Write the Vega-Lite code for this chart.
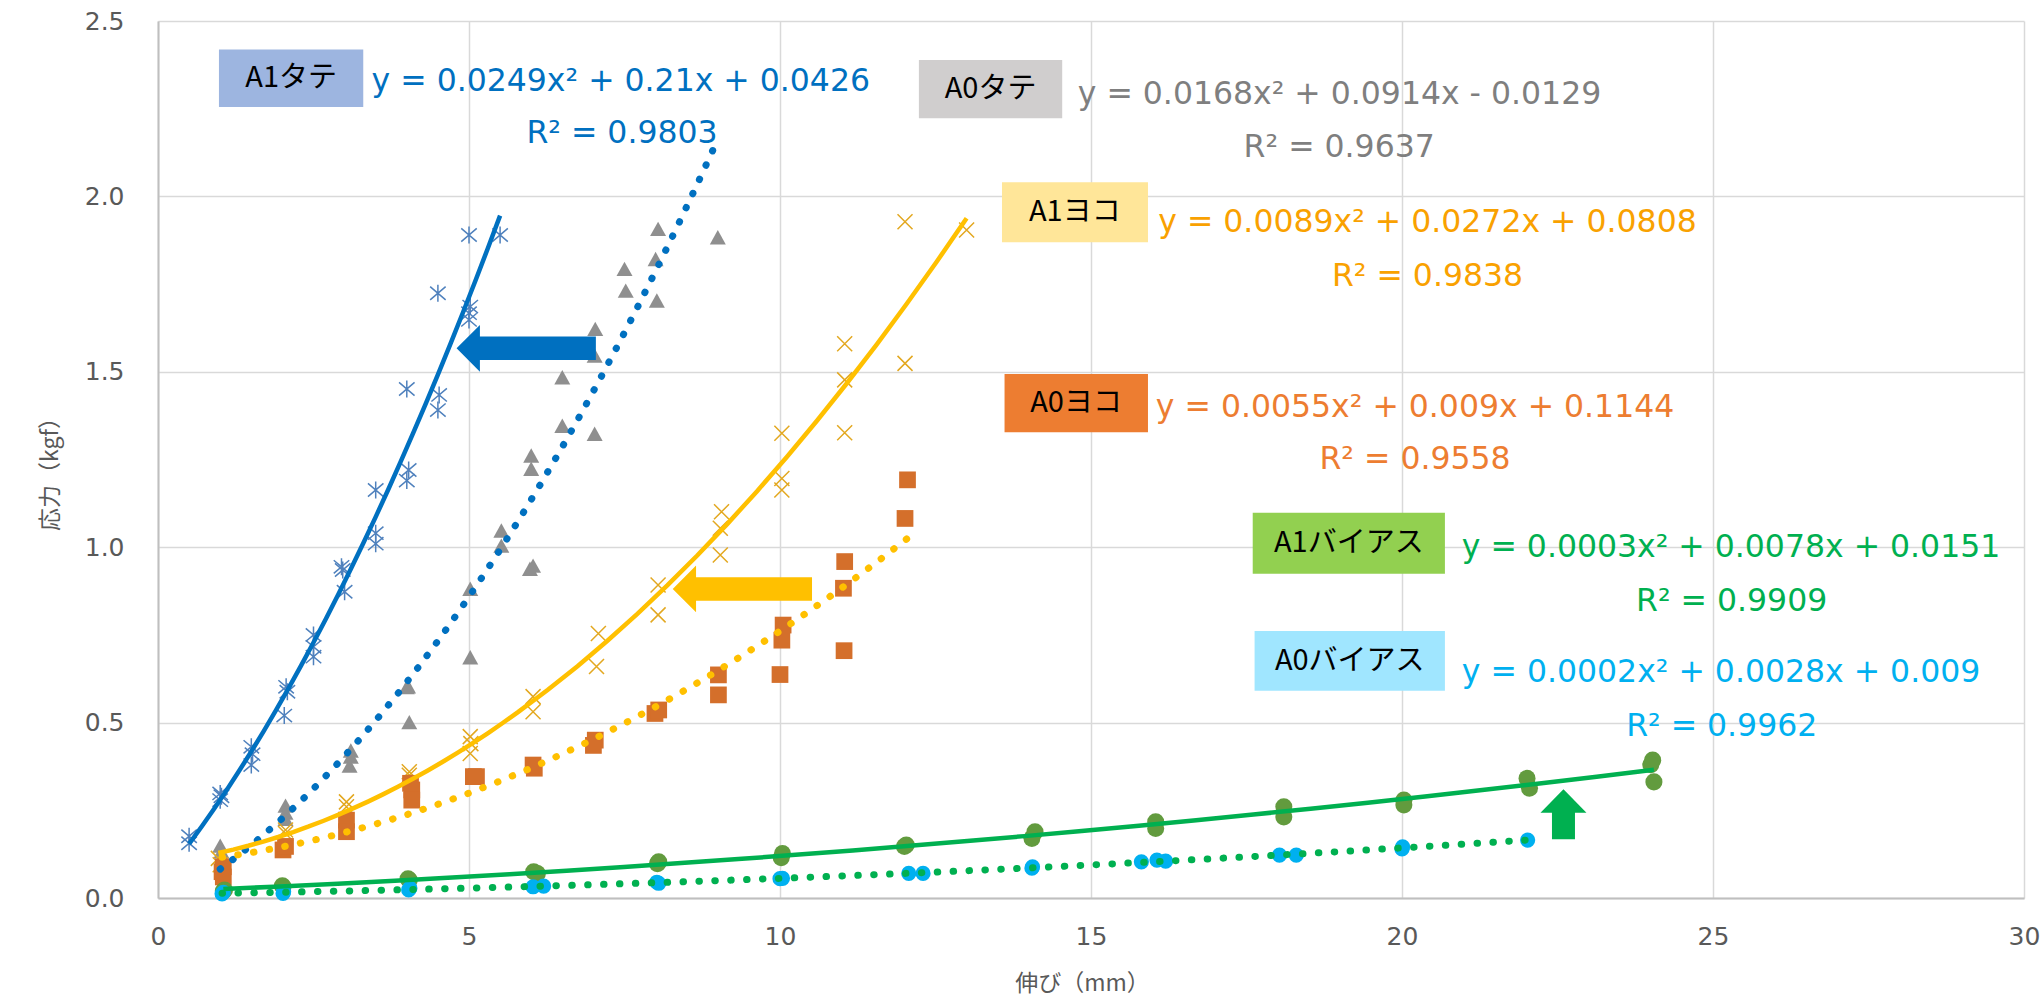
{
  "$schema": "https://vega.github.io/schema/vega-lite/v6.json",
  "width": 1866,
  "height": 877,
  "autosize": "none",
  "padding": {"left": 158, "top": 21, "right": 18, "bottom": 100},
  "background": "white",
  "config": {"view": {"stroke": null}},
  "datasets": {
    "pts": [
      {"s": "A1タテ", "x": 0.5, "y": 0.156}, {"s": "A1タテ", "x": 0.5, "y": 0.176},
      {"s": "A1タテ", "x": 1.0, "y": 0.279}, {"s": "A1タテ", "x": 1.0, "y": 0.298}, {"s": "A1タテ", "x": 1.02, "y": 0.29},
      {"s": "A1タテ", "x": 1.5, "y": 0.379}, {"s": "A1タテ", "x": 1.5, "y": 0.431}, {"s": "A1タテ", "x": 1.52, "y": 0.41},
      {"s": "A1タテ", "x": 2.03, "y": 0.52}, {"s": "A1タテ", "x": 2.06, "y": 0.602}, {"s": "A1タテ", "x": 2.08, "y": 0.588},
      {"s": "A1タテ", "x": 2.5, "y": 0.688}, {"s": "A1タテ", "x": 2.5, "y": 0.716}, {"s": "A1タテ", "x": 2.5, "y": 0.75},
      {"s": "A1タテ", "x": 3.0, "y": 0.873}, {"s": "A1タテ", "x": 2.97, "y": 0.935}, {"s": "A1タテ", "x": 2.95, "y": 0.944},
      {"s": "A1タテ", "x": 3.5, "y": 1.01}, {"s": "A1タテ", "x": 3.5, "y": 1.04}, {"s": "A1タテ", "x": 3.5, "y": 1.163},
      {"s": "A1タテ", "x": 4.0, "y": 1.19}, {"s": "A1タテ", "x": 4.03, "y": 1.22}, {"s": "A1タテ", "x": 4.0, "y": 1.451},
      {"s": "A1タテ", "x": 4.5, "y": 1.391}, {"s": "A1タテ", "x": 4.52, "y": 1.434}, {"s": "A1タテ", "x": 4.5, "y": 1.724},
      {"s": "A1タテ", "x": 5.0, "y": 1.648}, {"s": "A1タテ", "x": 5.0, "y": 1.667}, {"s": "A1タテ", "x": 5.02, "y": 1.686}, {"s": "A1タテ", "x": 5.0, "y": 1.89},
      {"s": "A1タテ", "x": 5.5, "y": 1.89},

      {"s": "A0タテ", "x": 1.0, "y": 0.146}, {"s": "A0タテ", "x": 1.02, "y": 0.13},
      {"s": "A0タテ", "x": 2.05, "y": 0.26}, {"s": "A0タテ", "x": 2.05, "y": 0.24}, {"s": "A0タテ", "x": 2.05, "y": 0.222},
      {"s": "A0タテ", "x": 3.1, "y": 0.417}, {"s": "A0タテ", "x": 3.1, "y": 0.4}, {"s": "A0タテ", "x": 3.08, "y": 0.374},
      {"s": "A0タテ", "x": 4.0, "y": 0.598}, {"s": "A0タテ", "x": 4.02, "y": 0.6}, {"s": "A0タテ", "x": 4.04, "y": 0.498},
      {"s": "A0タテ", "x": 5.02, "y": 0.878}, {"s": "A0タテ", "x": 5.02, "y": 0.683},
      {"s": "A0タテ", "x": 5.52, "y": 1.044}, {"s": "A0タテ", "x": 5.52, "y": 1.001},
      {"s": "A0タテ", "x": 5.98, "y": 0.935}, {"s": "A0タテ", "x": 6.03, "y": 0.944}, {"s": "A0タテ", "x": 6.0, "y": 1.258}, {"s": "A0タテ", "x": 6.0, "y": 1.22},
      {"s": "A0タテ", "x": 6.5, "y": 1.481}, {"s": "A0タテ", "x": 6.5, "y": 1.343},
      {"s": "A0タテ", "x": 7.03, "y": 1.619}, {"s": "A0タテ", "x": 7.02, "y": 1.543}, {"s": "A0タテ", "x": 7.02, "y": 1.32},
      {"s": "A0タテ", "x": 7.5, "y": 1.79}, {"s": "A0タテ", "x": 7.52, "y": 1.728},
      {"s": "A0タテ", "x": 8.04, "y": 1.904}, {"s": "A0タテ", "x": 8.0, "y": 1.818}, {"s": "A0タテ", "x": 8.02, "y": 1.7},
      {"s": "A0タテ", "x": 9.0, "y": 1.88},

      {"s": "A1ヨコ", "x": 0.97, "y": 0.113}, {"s": "A1ヨコ", "x": 1.0, "y": 0.095},
      {"s": "A1ヨコ", "x": 2.05, "y": 0.184}, {"s": "A1ヨコ", "x": 2.05, "y": 0.194},
      {"s": "A1ヨコ", "x": 3.03, "y": 0.274}, {"s": "A1ヨコ", "x": 3.03, "y": 0.26},
      {"s": "A1ヨコ", "x": 4.04, "y": 0.36}, {"s": "A1ヨコ", "x": 4.04, "y": 0.35},
      {"s": "A1ヨコ", "x": 5.02, "y": 0.46}, {"s": "A1ヨコ", "x": 5.02, "y": 0.412}, {"s": "A1ヨコ", "x": 5.03, "y": 0.44},
      {"s": "A1ヨコ", "x": 6.03, "y": 0.574}, {"s": "A1ヨコ", "x": 6.03, "y": 0.531},
      {"s": "A1ヨコ", "x": 7.08, "y": 0.754}, {"s": "A1ヨコ", "x": 7.05, "y": 0.66},
      {"s": "A1ヨコ", "x": 8.04, "y": 0.892}, {"s": "A1ヨコ", "x": 8.04, "y": 0.807},
      {"s": "A1ヨコ", "x": 9.06, "y": 1.101}, {"s": "A1ヨコ", "x": 9.04, "y": 1.054}, {"s": "A1ヨコ", "x": 9.04, "y": 0.978},
      {"s": "A1ヨコ", "x": 10.03, "y": 1.325}, {"s": "A1ヨコ", "x": 10.03, "y": 1.196}, {"s": "A1ヨコ", "x": 10.03, "y": 1.163},
      {"s": "A1ヨコ", "x": 11.04, "y": 1.58}, {"s": "A1ヨコ", "x": 11.04, "y": 1.477}, {"s": "A1ヨコ", "x": 11.04, "y": 1.326},
      {"s": "A1ヨコ", "x": 12.01, "y": 1.928}, {"s": "A1ヨコ", "x": 12.01, "y": 1.524},
      {"s": "A1ヨコ", "x": 13.0, "y": 1.904},

      {"s": "A0ヨコ", "x": 1.05, "y": 0.089}, {"s": "A0ヨコ", "x": 1.05, "y": 0.06}, {"s": "A0ヨコ", "x": 1.03, "y": 0.075},
      {"s": "A0ヨコ", "x": 2.01, "y": 0.137}, {"s": "A0ヨコ", "x": 2.05, "y": 0.147},
      {"s": "A0ヨコ", "x": 3.03, "y": 0.222}, {"s": "A0ヨコ", "x": 3.03, "y": 0.189},
      {"s": "A0ヨコ", "x": 4.08, "y": 0.308}, {"s": "A0ヨコ", "x": 4.08, "y": 0.279}, {"s": "A0ヨコ", "x": 4.06, "y": 0.327},
      {"s": "A0ヨコ", "x": 5.07, "y": 0.346}, {"s": "A0ヨコ", "x": 5.12, "y": 0.346},
      {"s": "A0ヨコ", "x": 6.03, "y": 0.379}, {"s": "A0ヨコ", "x": 6.05, "y": 0.37},
      {"s": "A0ヨコ", "x": 7.03, "y": 0.45}, {"s": "A0ヨコ", "x": 7.0, "y": 0.435},
      {"s": "A0ヨコ", "x": 7.99, "y": 0.526}, {"s": "A0ヨコ", "x": 8.05, "y": 0.536},
      {"s": "A0ヨコ", "x": 9.01, "y": 0.636}, {"s": "A0ヨコ", "x": 9.01, "y": 0.579},
      {"s": "A0ヨコ", "x": 10.03, "y": 0.735}, {"s": "A0ヨコ", "x": 10.05, "y": 0.778}, {"s": "A0ヨコ", "x": 10.0, "y": 0.637},
      {"s": "A0ヨコ", "x": 11.04, "y": 0.959}, {"s": "A0ヨコ", "x": 11.02, "y": 0.883}, {"s": "A0ヨコ", "x": 11.03, "y": 0.705},
      {"s": "A0ヨコ", "x": 12.05, "y": 1.192}, {"s": "A0ヨコ", "x": 12.01, "y": 1.082},

      {"s": "A1バイアス", "x": 1.07, "y": 0.023}, {"s": "A1バイアス", "x": 1.05, "y": 0.02},
      {"s": "A1バイアス", "x": 2.01, "y": 0.032}, {"s": "A1バイアス", "x": 2.0, "y": 0.035},
      {"s": "A1バイアス", "x": 4.04, "y": 0.051}, {"s": "A1バイアス", "x": 4.02, "y": 0.055},
      {"s": "A1バイアス", "x": 6.04, "y": 0.075}, {"s": "A1バイアス", "x": 6.1, "y": 0.07},
      {"s": "A1バイアス", "x": 8.05, "y": 0.103}, {"s": "A1バイアス", "x": 8.03, "y": 0.098},
      {"s": "A1バイアス", "x": 10.04, "y": 0.127}, {"s": "A1バイアス", "x": 10.02, "y": 0.115},
      {"s": "A1バイアス", "x": 12.03, "y": 0.151}, {"s": "A1バイアス", "x": 12.0, "y": 0.147},
      {"s": "A1バイアス", "x": 14.1, "y": 0.189}, {"s": "A1バイアス", "x": 14.05, "y": 0.17},
      {"s": "A1バイアス", "x": 16.04, "y": 0.217}, {"s": "A1バイアス", "x": 16.04, "y": 0.198},
      {"s": "A1バイアス", "x": 18.1, "y": 0.26}, {"s": "A1バイアス", "x": 18.1, "y": 0.231},
      {"s": "A1バイアス", "x": 20.03, "y": 0.279}, {"s": "A1バイアス", "x": 20.03, "y": 0.265},
      {"s": "A1バイアス", "x": 22.01, "y": 0.341}, {"s": "A1バイアス", "x": 22.05, "y": 0.313},
      {"s": "A1バイアス", "x": 24.03, "y": 0.393}, {"s": "A1バイアス", "x": 24.05, "y": 0.331}, {"s": "A1バイアス", "x": 24.0, "y": 0.38},

      {"s": "A0バイアス", "x": 1.03, "y": 0.012}, {"s": "A0バイアス", "x": 1.05, "y": 0.016},
      {"s": "A0バイアス", "x": 2.01, "y": 0.013}, {"s": "A0バイアス", "x": 2.02, "y": 0.018},
      {"s": "A0バイアス", "x": 4.03, "y": 0.023}, {"s": "A0バイアス", "x": 4.05, "y": 0.028},
      {"s": "A0バイアス", "x": 6.03, "y": 0.032}, {"s": "A0バイアス", "x": 6.2, "y": 0.034},
      {"s": "A0バイアス", "x": 8.05, "y": 0.042}, {"s": "A0バイアス", "x": 8.02, "y": 0.045},
      {"s": "A0バイアス", "x": 10.04, "y": 0.056}, {"s": "A0バイアス", "x": 10.0, "y": 0.055},
      {"s": "A0バイアス", "x": 12.07, "y": 0.07}, {"s": "A0バイアス", "x": 12.3, "y": 0.07},
      {"s": "A0バイアス", "x": 14.06, "y": 0.089}, {"s": "A0バイアス", "x": 14.05, "y": 0.085},
      {"s": "A0バイアス", "x": 15.81, "y": 0.103}, {"s": "A0バイアス", "x": 16.06, "y": 0.108}, {"s": "A0バイアス", "x": 16.2, "y": 0.105},
      {"s": "A0バイアス", "x": 18.03, "y": 0.122}, {"s": "A0バイアス", "x": 18.3, "y": 0.122},
      {"s": "A0バイアス", "x": 20.01, "y": 0.146}, {"s": "A0バイアス", "x": 20.0, "y": 0.14},
      {"s": "A0バイアス", "x": 22.02, "y": 0.165}
    ],
    "boxes": [
      {"lab": "A1タテ", "x": 0.98, "x2": 3.3, "y": 2.255, "y2": 2.419},
      {"lab": "A0タテ", "x": 12.233, "x2": 14.537, "y": 2.2226, "y2": 2.389},
      {"lab": "A1ヨコ", "x": 13.569, "x2": 15.916, "y": 1.869, "y2": 2.04},
      {"lab": "A0ヨコ", "x": 13.61, "x2": 15.916, "y": 1.3275, "y2": 1.4937},
      {"lab": "A1バイアス", "x": 17.6, "x2": 20.69, "y": 0.9245, "y2": 1.0984},
      {"lab": "A0バイアス", "x": 17.63, "x2": 20.69, "y": 0.591, "y2": 0.7611}
    ],
    "labels": [
      {"kind": "box", "lab": "A1タテ", "t": "A1タテ", "x": 2.14, "y": 2.337},
      {"kind": "box", "lab": "A0タテ", "t": "A0タテ", "x": 13.385, "y": 2.306},
      {"kind": "box", "lab": "A1ヨコ", "t": "A1ヨコ", "x": 14.74, "y": 1.955},
      {"kind": "box", "lab": "A0ヨコ", "t": "A0ヨコ", "x": 14.76, "y": 1.41},
      {"kind": "box", "lab": "A1バイアス", "t": "A1バイアス", "x": 19.145, "y": 1.011},
      {"kind": "box", "lab": "A0バイアス", "t": "A0バイアス", "x": 19.16, "y": 0.676},
      {"kind": "eq", "lab": "A1タテ", "t": "y = 0.0249x² + 0.21x + 0.0426", "x": 7.44, "y": 2.325},
      {"kind": "eq", "lab": "A1タテ", "t": "R² = 0.9803", "x": 7.46, "y": 2.178},
      {"kind": "eq", "lab": "A0タテ", "t": "y = 0.0168x² + 0.0914x - 0.0129", "x": 18.995, "y": 2.289},
      {"kind": "eq", "lab": "A0タテ", "t": "R² = 0.9637", "x": 18.99, "y": 2.137},
      {"kind": "eq", "lab": "A1ヨコ", "t": "y = 0.0089x² + 0.0272x + 0.0808", "x": 20.41, "y": 1.923},
      {"kind": "eq", "lab": "A1ヨコ", "t": "R² = 0.9838", "x": 20.41, "y": 1.771},
      {"kind": "eq", "lab": "A0ヨコ", "t": "y = 0.0055x² + 0.009x + 0.1144", "x": 20.21, "y": 1.396},
      {"kind": "eq", "lab": "A0ヨコ", "t": "R² = 0.9558", "x": 20.21, "y": 1.2486},
      {"kind": "eq", "lab": "A1バイアス", "t": "y = 0.0003x² + 0.0078x + 0.0151", "x": 25.29, "y": 0.9968},
      {"kind": "eq", "lab": "A1バイアス", "t": "R² = 0.9909", "x": 25.3, "y": 0.8447},
      {"kind": "eq", "lab": "A0バイアス", "t": "y = 0.0002x² + 0.0028x + 0.009", "x": 25.13, "y": 0.6405},
      {"kind": "eq", "lab": "A0バイアス", "t": "R² = 0.9962", "x": 25.14, "y": 0.4866}
    ],
    "arrows": [
      {"a": "blue", "x": 5.92, "y": 1.567},
      {"a": "yellow", "x": 9.395, "y": 0.881},
      {"a": "green", "x": 22.596, "y": 0.2386}
    ]
  },
  "encoding": {
    "x": {
      "field": "x", "type": "quantitative",
      "scale": {"domain": [0, 30], "nice": false, "zero": false},
      "axis": {
        "values": [0, 5, 10, 15, 20, 25, 30], "format": "d",
        "title": "伸び（mm）",
        "grid": true, "gridColor": "#d9d9d9", "gridWidth": 1.5,
        "domainColor": "#bfbfbf", "domainWidth": 2,
        "ticks": false, "tickSize": 0,
        "labelFont": "DejaVu Sans", "labelFontSize": 25, "labelColor": "#595959",
        "labelPadding": 26, "labelFlush": false,
        "titleFont": "Noto Sans CJK JP", "titleFontSize": 23, "titleColor": "#595959",
        "titleFontWeight": "normal", "titleX": 924, "titleY": 85, "titleBaseline": "middle"
      }
    },
    "y": {
      "field": "y", "type": "quantitative",
      "scale": {"domain": [0, 2.5], "nice": false},
      "axis": {
        "values": [0, 0.5, 1, 1.5, 2, 2.5], "format": ".1f",
        "title": "応力（kgf）",
        "grid": true, "gridColor": "#d9d9d9", "gridWidth": 1.5,
        "domainColor": "#bfbfbf", "domainWidth": 2,
        "ticks": false, "tickSize": 0,
        "labelFont": "DejaVu Sans", "labelFontSize": 25, "labelColor": "#595959",
        "labelPadding": 34,
        "titleFont": "Noto Sans CJK JP", "titleFontSize": 23, "titleColor": "#595959",
        "titleFontWeight": "normal", "titleX": -108, "titleY": 447, "titleAngle": -90, "titleBaseline": "middle"
      }
    }
  },
  "layer": [
    {
      "data": {"name": "pts"},
      "transform": [{"filter": "datum.s === 'A1タテ'"}],
      "mark": {"type": "point", "shape": "M-1,-0.85L1,0.85M-1,0.85L1,-0.85M0,-1.1L0,1.1", "filled": false, "stroke": "#4f81bd", "strokeWidth": 1.5, "size": 240, "opacity": 1}
    },
    {
      "data": {"name": "pts"},
      "transform": [{"filter": "datum.s === 'A0タテ'"}],
      "mark": {"type": "point", "shape": "M0,-1.05L1,0.75L-1,0.75Z", "filled": true, "color": "#8f8f8f", "size": 256, "opacity": 1}
    },
    {
      "data": {"name": "pts"},
      "transform": [{"filter": "datum.s === 'A1ヨコ'"}],
      "mark": {"type": "point", "shape": "M-1,-1L1,1M-1,1L1,-1", "filled": false, "stroke": "#e3a820", "strokeWidth": 1.5, "size": 225, "opacity": 1}
    },
    {
      "data": {"name": "pts"},
      "transform": [{"filter": "datum.s === 'A0ヨコ'"}],
      "mark": {"type": "point", "shape": "square", "filled": true, "color": "#d46f2b", "size": 280, "opacity": 1}
    },
    {
      "data": {"name": "pts"},
      "transform": [{"filter": "datum.s === 'A1バイアス'"}],
      "mark": {"type": "point", "shape": "circle", "filled": true, "color": "#629b3e", "size": 290, "opacity": 1}
    },
    {
      "data": {"name": "pts"},
      "transform": [{"filter": "datum.s === 'A0バイアス'"}],
      "mark": {"type": "point", "shape": "circle", "filled": true, "color": "#00b0f0", "size": 230, "opacity": 1}
    },
    {
      "data": {"name": "pts"},
      "transform": [{"filter": "datum.s === 'A1タテ'"}, {"regression": "y", "on": "x", "method": "poly", "order": 2}],
      "mark": {"type": "line", "color": "#0070c0", "strokeWidth": 4.5}
    },
    {
      "data": {"name": "pts"},
      "transform": [{"filter": "datum.s === 'A0タテ'"}, {"regression": "y", "on": "x", "method": "poly", "order": 2}],
      "mark": {"type": "line", "color": "#0070c0", "strokeWidth": 7, "strokeDash": [0.5, 15.2], "strokeCap": "round"}
    },
    {
      "data": {"name": "pts"},
      "transform": [{"filter": "datum.s === 'A1ヨコ'"}, {"regression": "y", "on": "x", "method": "poly", "order": 2}],
      "mark": {"type": "line", "color": "#ffc000", "strokeWidth": 4.5}
    },
    {
      "data": {"name": "pts"},
      "transform": [{"filter": "datum.s === 'A0ヨコ'"}, {"regression": "y", "on": "x", "method": "poly", "order": 2}],
      "mark": {"type": "line", "color": "#ffc000", "strokeWidth": 7, "strokeDash": [0.5, 15.4], "strokeCap": "round"}
    },
    {
      "data": {"name": "pts"},
      "transform": [{"filter": "datum.s === 'A1バイアス'"}, {"regression": "y", "on": "x", "method": "poly", "order": 2}],
      "mark": {"type": "line", "color": "#00b050", "strokeWidth": 4.5}
    },
    {
      "data": {"name": "pts"},
      "transform": [{"filter": "datum.s === 'A0バイアス'"}, {"regression": "y", "on": "x", "method": "poly", "order": 2}],
      "mark": {"type": "line", "color": "#00b050", "strokeWidth": 7, "strokeDash": [0.5, 15.4], "strokeCap": "round"}
    },
    {
      "data": {"name": "boxes"},
      "mark": {"type": "rect", "opacity": 1},
      "encoding": {
        "x2": {"field": "x2"},
        "y2": {"field": "y2"},
        "fill": {
          "field": "lab", "type": "nominal", "legend": null,
          "scale": {"domain": ["A1タテ", "A0タテ", "A1ヨコ", "A0ヨコ", "A1バイアス", "A0バイアス"],
                    "range": ["#9db5e0", "#d0cece", "#ffe699", "#ed7d31", "#92d050", "#a0e6ff"]}
        }
      }
    },
    {
      "data": {"name": "labels"},
      "transform": [{"filter": "datum.kind === 'box'"}],
      "mark": {"type": "text", "font": "Noto Sans CJK JP", "fontSize": 29, "color": "#000000", "align": "center", "baseline": "middle"},
      "encoding": {"text": {"field": "t"}}
    },
    {
      "data": {"name": "labels"},
      "transform": [{"filter": "datum.kind === 'eq'"}],
      "mark": {"type": "text", "font": "DejaVu Sans", "fontSize": 31.5, "align": "center", "baseline": "middle"},
      "encoding": {
        "text": {"field": "t"},
        "color": {
          "field": "lab", "type": "nominal", "legend": null,
          "scale": {"domain": ["A1タテ", "A0タテ", "A1ヨコ", "A0ヨコ", "A1バイアス", "A0バイアス"],
                    "range": ["#0070c0", "#7f7f7f", "#f9a100", "#ed7d31", "#00b050", "#00b0f0"]}
        }
      }
    },
    {
      "data": {"name": "arrows"},
      "transform": [{"filter": "datum.a === 'blue'"}],
      "mark": {"type": "point", "shape": "M-1,0L-0.665,-0.335L-0.665,-0.168L1,-0.168L1,0.168L-0.665,0.168L-0.665,0.335Z", "filled": true, "color": "#0070c0", "size": 19404, "opacity": 1}
    },
    {
      "data": {"name": "arrows"},
      "transform": [{"filter": "datum.a === 'yellow'"}],
      "mark": {"type": "point", "shape": "M-1,0L-0.665,-0.335L-0.665,-0.168L1,-0.168L1,0.168L-0.665,0.168L-0.665,0.335Z", "filled": true, "color": "#ffc000", "size": 19404, "opacity": 1}
    },
    {
      "data": {"name": "arrows"},
      "transform": [{"filter": "datum.a === 'green'"}],
      "mark": {"type": "point", "shape": "M0,-1L0.92,-0.064L0.46,-0.064L0.46,1L-0.46,1L-0.46,-0.064L-0.92,-0.064Z", "filled": true, "color": "#00b050", "size": 2500, "opacity": 1}
    }
  ]
}
